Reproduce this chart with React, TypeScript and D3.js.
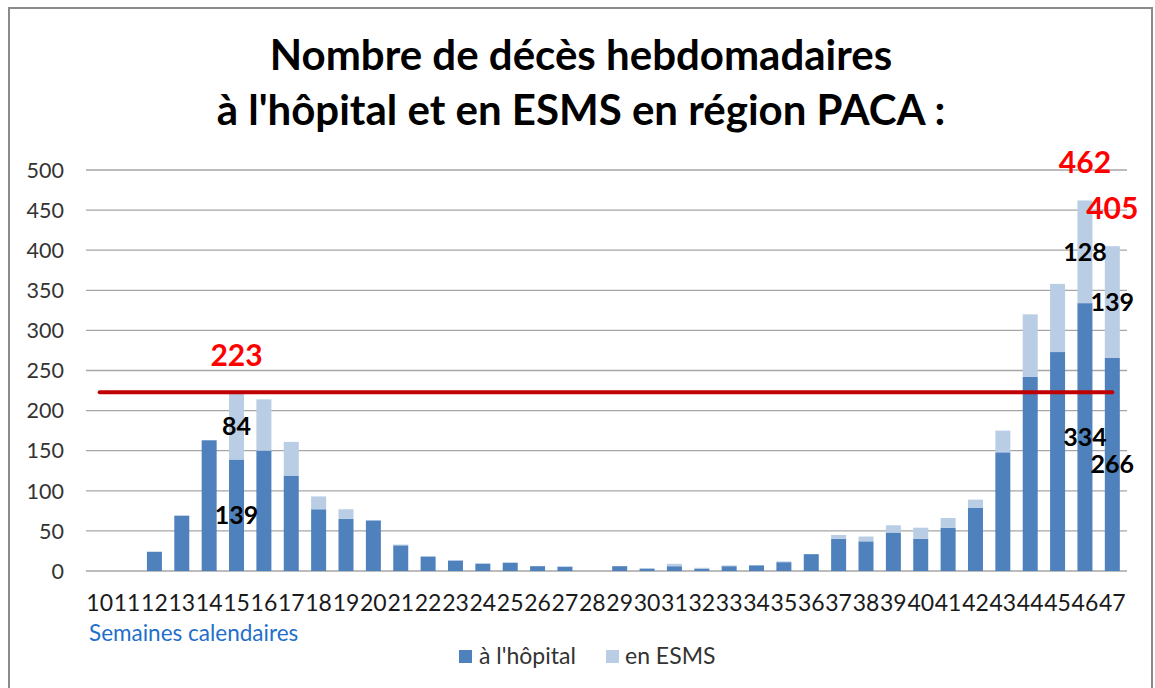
import React from "react";
import * as d3 from "d3";

const weeks = ["10","11","12","13","14","15","16","17","18","19","20","21","22","23","24","25","26","27","28","29","30","31","32","33","34","35","36","37","38","39","40","41","42","43","44","45","46","47"];
const hopital = [0,0,24,69,163,139,150,119,77,65,63,32,18,13,9,10,6,5,0,6,3,6,3,6,7,11,21,40,37,48,40,54,79,148,242,273,334,266];
const esms = [0,0,0,0,0,84,64,42,16,12,0,1,0,0,1,1,0,1,0,0,0,3,1,1,0,1,0,5,6,9,14,12,10,27,78,85,128,139];
const yTicks = [0,50,100,150,200,250,300,350,400,450,500];
const annotatedWeeks = ["15","46","47"];
const totalLabelWeeks = ["46","47"];
const threshold = 223;
const titleLines = ["Nombre de décès hebdomadaires", "à l'hôpital et en ESMS en région PACA :"];
const seriesNames = ["à l'hôpital", "en ESMS"];
const xAxisTitle = "Semaines calendaires";

const COL_H = "#4F81BD";
const COL_E = "#B9CDE5";
const FONT = "Lato, 'Open Sans', sans-serif";

export default function App() {
  const W = 1155, H = 688;
  const x = d3.scaleBand<string>().domain(weeks).range([86, 1126]).paddingInner(0.452).paddingOuter(0.226);
  const y = d3.scaleLinear().domain([0, 500]).range([571, 170]);
  const cx = (w: string) => (x(w) as number) + x.bandwidth() / 2;

  return (
    <svg width={W} height={H} style={{ position: "absolute", left: 0, top: 0, background: "#fff" }} fontFamily={FONT}>
      <rect x={0} y={0} width={W} height={H} fill="#fff" />
      <rect x={9} y={8} width={1143} height={700} fill="none" stroke="#8a8a8a" strokeWidth={2} />
      {titleLines.map((t, i) => (
        <text key={i} x={581} y={70 + i * 55} textAnchor="middle" fontSize={42} fontWeight={700} fill="#000">{t}</text>
      ))}
      {yTicks.map((t) => (
        <g key={t}>
          <line x1={86} x2={1127} y1={y(t)} y2={y(t)} stroke="#a6a6a6" strokeWidth={1.3} />
          <text x={64} y={y(t)} dy="0.36em" textAnchor="end" fontSize={21.5} fill="#333">{t}</text>
        </g>
      ))}
      {weeks.map((w, i) => (
        <g key={w}>
          {hopital[i] > 0 && (
            <rect x={x(w)} y={y(hopital[i])} width={x.bandwidth()} height={y(0) - y(hopital[i])} fill={COL_H} />
          )}
          {esms[i] > 0 && (
            <rect x={x(w)} y={y(hopital[i] + esms[i])} width={x.bandwidth()} height={y(hopital[i]) - y(hopital[i] + esms[i])} fill={COL_E} />
          )}
          <text x={cx(w)} y={611} textAnchor="middle" fontSize={23} fill="#1a1a1a">{w}</text>
        </g>
      ))}
      <line x1={cx(weeks[0])} x2={cx(weeks[weeks.length - 1])} y1={y(threshold)} y2={y(threshold)} stroke="#C00000" strokeWidth={4} strokeLinecap="round" />
      <text x={cx("15")} y={y(threshold) - 37} dy="0.36em" textAnchor="middle" fontSize={30} fontWeight={700} fill="#FF0000">{threshold}</text>
      {annotatedWeeks.map((w) => {
        const i = weeks.indexOf(w);
        const h = hopital[i], e = esms[i];
        return (
          <g key={"a" + w}>
            <text x={cx(w)} y={(y(0) + y(h)) / 2} dy="0.36em" textAnchor="middle" fontSize={25} fontWeight={700} fill="#000">{h}</text>
            <text x={cx(w)} y={(y(h) + y(h + e)) / 2} dy="0.36em" textAnchor="middle" fontSize={25} fontWeight={700} fill="#000">{e}</text>
          </g>
        );
      })}
      {totalLabelWeeks.map((w) => {
        const i = weeks.indexOf(w);
        const tot = hopital[i] + esms[i];
        return (
          <text key={"t" + w} x={cx(w)} y={y(tot) - 38} dy="0.36em" textAnchor="middle" fontSize={30} fontWeight={700} fill="#FF0000">{tot}</text>
        );
      })}
      <text x={89} y={641} fontSize={22.5} fill="#1F6FCB">{xAxisTitle}</text>
      <g>
        <rect x={459} y={650} width={13} height={13} fill={COL_H} />
        <text x={479} y={664} fontSize={23} fill="#333">{seriesNames[0]}</text>
        <rect x={606} y={650} width={13} height={13} fill={COL_E} />
        <text x={625} y={664} fontSize={23} fill="#333">{seriesNames[1]}</text>
      </g>
    </svg>
  );
}
